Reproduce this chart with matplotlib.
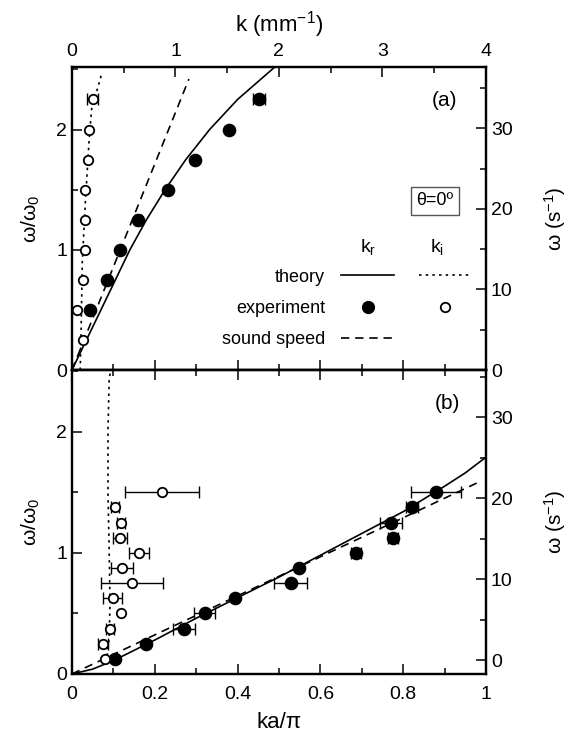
"""Dispersion of omega vs k for theta = 0: theory, experiment and sound speed."""

import numpy as np
import matplotlib
matplotlib.use("Agg")
import matplotlib.pyplot as plt
from matplotlib.lines import Line2D
from matplotlib.ticker import MultipleLocator, NullFormatter

plt.rcParams["font.family"] = ["Liberation Sans", "DejaVu Sans"]
plt.rcParams["mathtext.fontset"] = "custom"
plt.rcParams["mathtext.rm"] = "Liberation Sans"
plt.rcParams["mathtext.it"] = "Liberation Sans"
plt.rcParams["mathtext.bf"] = "Liberation Sans"

# ---- panel (a): x in k (mm^-1) ----
a_w = np.array([0.5, 0.75, 1.0, 1.25, 1.5, 1.75, 2.0, 2.25])
a_kr = np.array([0.175, 0.34, 0.46, 0.64, 0.93, 1.19, 1.52, 1.81])
a_kr_err = np.array([0, 0, 0, 0.03, 0, 0, 0, 0.06])
a_wi = np.array([0.25, 0.5, 0.75, 1.0, 1.25, 1.5, 1.75, 2.0, 2.25])
a_ki = np.array([0.107, 0.05, 0.11, 0.126, 0.122, 0.126, 0.155, 0.165, 0.20])
a_ki_err = np.array([0, 0, 0, 0, 0, 0, 0, 0, 0.05])

a_theory_kr = [0, 0.14, 0.28, 0.42, 0.56, 0.72, 0.90, 1.10, 1.33, 1.60, 1.80, 1.96]
a_theory_wr = [0, 0.25, 0.5, 0.75, 1.0, 1.25, 1.5, 1.75, 2.0, 2.25, 2.4, 2.52]
a_theory_ki = [0.08, 0.09, 0.10, 0.13, 0.165, 0.19, 0.24, 0.29]
a_theory_wi = [0.0, 0.4, 0.9, 1.4, 1.9, 2.17, 2.32, 2.47]
a_sound_k = [0, 1.13]
a_sound_w = [0, 2.42]

# ---- panel (b): x in ka/pi ----
b_w = np.array([0.125, 0.25, 0.375, 0.5, 0.625, 0.75, 0.875, 1.0, 1.125, 1.25, 1.375, 1.5])
b_kr = np.array([0.104, 0.178, 0.270, 0.321, 0.393, 0.529, 0.548, 0.686, 0.775, 0.771, 0.821, 0.879])
b_kr_err = np.array([0, 0, 0.027, 0.025, 0, 0.04, 0, 0.012, 0.012, 0.027, 0.015, 0.06])
b_ki = np.array([0.079, 0.075, 0.092, 0.118, 0.099, 0.145, 0.121, 0.162, 0.116, 0.118, 0.104, 0.217])
b_ki_err = np.array([0, 0.012, 0.01, 0, 0.023, 0.075, 0.026, 0.023, 0.016, 0.01, 0.01, 0.09])

b_theory_kr = [0, 0.05, 0.1, 0.2, 0.3, 0.4, 0.5, 0.6, 0.7, 0.8, 0.9, 0.95, 1.0]
b_theory_wr = [0, 0.04, 0.11, 0.28, 0.46, 0.63, 0.80, 0.98, 1.16, 1.34, 1.55, 1.66, 1.79]
b_theory_ki = [0.085, 0.09, 0.092, 0.09, 0.087, 0.087, 0.09, 0.095]
b_theory_wi = [0.15, 0.3, 0.6, 1.0, 1.5, 2.0, 2.45, 2.51]
b_sound_k = [0, 0.98]
b_sound_w = [0, 1.58]

FS = 14
LW = 1.2
DASH = (5, 3.5)
DOT = (1.5, 2.5)


def _points(ax, x, y, xerr, filled):
    face = "black" if filled else "white"
    ms = 8.5 if filled else 6.8
    m = xerr > 0
    ax.errorbar(x[m], y[m], xerr=xerr[m], fmt="none", ecolor="black",
                elinewidth=1.0, capsize=4, capthick=1.0, zorder=3)
    ax.plot(x, y, "o", ms=ms, mfc=face, mec="black", mew=1.3, zorder=4)


def _style_left(ax, ylim):
    ax.set_ylim(*ylim)
    ax.yaxis.set_major_locator(MultipleLocator(1))
    ax.yaxis.set_minor_locator(MultipleLocator(0.5))
    ax.tick_params(axis="y", which="both", direction="in", left=True, right=False,
                   labelsize=FS)
    ax.tick_params(axis="y", which="major", length=7, width=1.1)
    ax.tick_params(axis="y", which="minor", length=4, width=1.1)
    ax.set_ylabel("ω/ω$_0$", fontsize=FS + 1, labelpad=10)


def _style_right(ax, ylim):
    r = ax.twinx()
    r.set_ylim(*ylim)
    r.yaxis.set_major_locator(MultipleLocator(10))
    r.yaxis.set_minor_locator(MultipleLocator(5))
    r.tick_params(axis="y", which="both", direction="in", labelsize=FS)
    r.tick_params(axis="y", which="major", length=7, width=1.1)
    r.tick_params(axis="y", which="minor", length=4, width=1.1)
    r.set_ylabel("ω (s$^{-1}$)", fontsize=FS + 1, labelpad=21)
    for s in r.spines.values():
        s.set_linewidth(1.6)
    return r


def _style_kapi(axis, labels):
    axis.set_major_locator(MultipleLocator(0.2))
    axis.set_minor_locator(MultipleLocator(0.1))
    if not labels:
        axis.set_major_formatter(NullFormatter())


fig = plt.figure(figsize=(5.71, 7.39), dpi=100)
ax_a = fig.add_axes([0.126, 0.4993, 0.725, 0.4100])
ax_b = fig.add_axes([0.126, 0.0880, 0.725, 0.4113])

# ---- panel (a) ----
ax_a.plot(a_theory_kr, a_theory_wr, color="black", lw=LW)
ax_a.plot(a_theory_ki, a_theory_wi, color="black", lw=LW, dashes=DOT)
ax_a.plot(a_sound_k, a_sound_w, color="black", lw=LW, dashes=DASH)
_points(ax_a, a_kr, a_w, a_kr_err, True)
_points(ax_a, a_ki, a_wi, a_ki_err, False)
ax_a.set_xlim(0, 4)
ax_a.xaxis.tick_top()
ax_a.xaxis.set_label_position("top")
ax_a.xaxis.set_major_locator(MultipleLocator(1))
ax_a.xaxis.set_minor_locator(MultipleLocator(0.5))
ax_a.tick_params(axis="x", which="both", direction="in", labelsize=FS, pad=5)
ax_a.tick_params(axis="x", which="major", length=7, width=1.1)
ax_a.tick_params(axis="x", which="minor", length=4, width=1.1)
ax_a.set_xlabel("k (mm$^{-1}$)", fontsize=FS + 2, labelpad=8)
sec = ax_a.secondary_xaxis("bottom", functions=(lambda k: k / 4, lambda x: 4 * x))
_style_kapi(sec.xaxis, False)
sec.tick_params(axis="x", which="both", direction="in", width=1.1)
sec.tick_params(axis="x", which="major", length=7)
sec.tick_params(axis="x", which="minor", length=4)
_style_left(ax_a, (0, 2.52))
_style_right(ax_a, (0, 37.6))

ax_a.text(0.90, 0.89, "(a)", transform=ax_a.transAxes, fontsize=FS + 1,
          ha="center", va="center")
ax_a.text(0.877, 0.558, "θ=0º", transform=ax_a.transAxes, fontsize=FS - 1,
          ha="center", va="center",
          bbox=dict(boxstyle="square,pad=0.3", fc="white", ec="#555555", lw=1.0))
ax_a.text(0.715, 0.406, "k$_r$", transform=ax_a.transAxes, fontsize=FS,
          ha="center", va="center")
ax_a.text(0.882, 0.406, "k$_i$", transform=ax_a.transAxes, fontsize=FS,
          ha="center", va="center")

h_theory_r = Line2D([], [], color="black", lw=LW)
h_exp_r = Line2D([], [], ls="none", marker="o", ms=8.5, mfc="black", mec="black")
h_sound = Line2D([], [], color="black", lw=LW, dashes=DASH)
h_theory_i = Line2D([], [], color="black", lw=LW, dashes=DOT)
h_exp_i = Line2D([], [], ls="none", marker="o", ms=6.8, mfc="white", mec="black", mew=1.3)
h_blank = Line2D([], [], ls="none")
ax_a.legend([h_theory_r, h_exp_r, h_sound, h_theory_i, h_exp_i, h_blank],
            ["theory", "experiment", "sound speed", "", "", ""],
            ncols=2, markerfirst=False, frameon=False, fontsize=FS - 1,
            loc="upper right", bbox_to_anchor=(0.965, 0.335), borderpad=0,
            borderaxespad=0, handlelength=2.9, handletextpad=0.9,
            columnspacing=0.5, labelspacing=0.8)

# ---- panel (b) ----
ax_b.plot(b_theory_kr, b_theory_wr, color="black", lw=LW)
ax_b.plot(b_theory_ki, b_theory_wi, color="black", lw=LW, dashes=DOT)
ax_b.plot(b_sound_k, b_sound_w, color="black", lw=LW, dashes=DASH)
_points(ax_b, b_kr, b_w, b_kr_err, True)
_points(ax_b, b_ki, b_w, b_ki_err, False)
ax_b.set_xlim(0, 1)
_style_kapi(ax_b.xaxis, True)
ax_b.xaxis.set_major_formatter(plt.FuncFormatter(lambda v, p: f"{v:g}"))
ax_b.tick_params(axis="x", which="both", direction="in", top=True, labelsize=FS, pad=9)
ax_b.tick_params(axis="x", which="major", length=7, width=1.1)
ax_b.tick_params(axis="x", which="minor", length=4, width=1.1)
ax_b.set_xlabel("ka/π", fontsize=FS + 2, labelpad=6)
_style_left(ax_b, (0, 2.51))
_style_right(ax_b, (-1.7, 35.8))

ax_b.text(0.908, 0.89, "(b)", transform=ax_b.transAxes, fontsize=FS + 1,
          ha="center", va="center")

for ax in (ax_a, ax_b):
    for s in ax.spines.values():
        s.set_linewidth(1.6)
sec.spines["bottom"].set_linewidth(1.6)

fig.savefig("out.png", dpi=100)
